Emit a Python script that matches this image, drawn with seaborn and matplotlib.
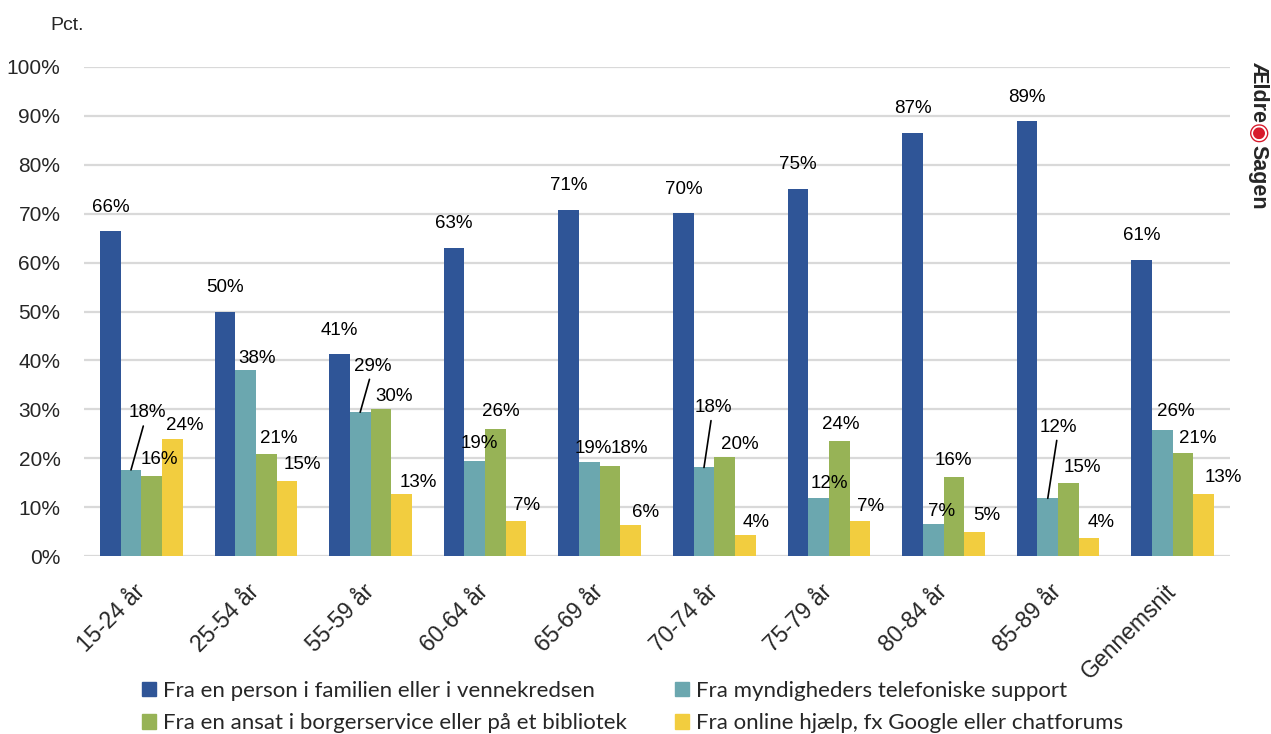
import matplotlib
matplotlib.use("Agg")
import matplotlib.pyplot as plt
from matplotlib.patches import Patch
import seaborn as sns
import pandas as pd

categories = ["15-24 år", "25-54 år", "55-59 år", "60-64 år", "65-69 år",
              "70-74 år", "75-79 år", "80-84 år", "85-89 år", "Gennemsnit"]
series = ["Fra en person i familien eller i vennekredsen",
          "Fra myndigheders telefoniske support",
          "Fra en ansat i borgerservice eller på et bibliotek",
          "Fra online hjælp, fx Google eller chatforums"]

family = [66.4, 49.9, 41.3, 63.0, 70.8, 70.1, 75.1, 86.6, 88.9, 60.6]
authority = [17.6, 38.0, 29.4, 19.4, 19.2, 18.1, 11.9, 6.6, 11.8, 25.8]
citizen = [16.4, 20.8, 30.0, 26.0, 18.4, 20.3, 23.6, 16.1, 14.9, 21.0]
online = [24.0, 15.4, 12.6, 7.2, 6.3, 4.2, 7.2, 5.0, 3.6, 12.6]

colors = ["#2F5597", "#6BA7AF", "#97B356", "#F2CD3F"]

# label offsets in pixels (dx right, dy up) from the top centre of each bar
offsets = [
    [(0, 24)] * 10,
    [(16, 57), (12, 12), (13, 46), (5, 18), (4, 14), (9, 60), (11, 14), (8, 12), (11, 71), (13, 18)],
    [(8, 16), (13, 16), (13, 13), (5, 17), (19, 18), (15, 12), (2, 16), (0, 17), (14, 16), (15, 15)],
    [(13, 13), (16, 16), (17, 12), (11, 15), (15, 13), (11, 13), (11, 14), (12, 16), (12, 16), (20, 17)],
]
# labels connected to their bar by a leader line
leaders = {(1, 0), (1, 2), (1, 5), (1, 8)}

df = pd.DataFrame({
    "Alder": categories * 4,
    "Serie": [s for s in series for _ in categories],
    "Andel": family + authority + citizen + online,
})

sns.set_theme(style="white")
plt.rcParams["font.family"] = ["Liberation Sans", "DejaVu Sans"]

fig = plt.figure(figsize=(12.71, 7.34), dpi=100)
ax = fig.add_axes([84 / 1271, 1 - 556 / 734, (1230 - 84) / 1271, (556 - 67) / 734])

sns.barplot(data=df, x="Alder", y="Andel", hue="Serie", hue_order=series,
            palette=colors, saturation=1, width=0.72, linewidth=0,
            legend=False, ax=ax)

for k, cont in enumerate(ax.containers):
    for i, bar in enumerate(cont):
        h = bar.get_height()
        x = bar.get_x() + bar.get_width() / 2
        dx, dy = offsets[k][i]
        props = None
        if (k, i) in leaders:
            props = dict(arrowstyle="-", color="black", lw=1.2, shrinkA=1, shrinkB=0)
        ax.annotate(f"{int(h + 0.5)}%", xy=(x, h), xytext=(dx, dy),
                    textcoords="offset pixels", ha="center", va="center",
                    fontsize=13.5, color="black", arrowprops=props)

ax.set_ylim(0, 100)
ax.set_xlim(-0.5, 9.5)
ax.set_yticks(range(0, 101, 10))
ax.set_yticklabels([f"{t}%" for t in range(0, 101, 10)])
ax.yaxis.grid(True, color="#d9d9d9", linewidth=1.6)
ax.set_axisbelow(True)
for s in ax.spines.values():
    s.set_visible(False)
ax.set_xlabel("")
ax.set_ylabel("")
ax.tick_params(axis="y", length=0, pad=17, labelsize=15)
ax.tick_params(axis="x", length=0, pad=23, labelsize=16.5)
for lab in ax.get_xticklabels():
    lab.set_rotation(45)
    lab.set_ha("right")
    lab.set_va("center")
    lab.set_rotation_mode("anchor")

fig.text(50 / 1271, 1 - 25 / 734, "Pct.", fontsize=14, va="center", ha="left")

handles = [Patch(color=c) for c in colors]
order = [0, 2, 1, 3]
fig.legend([handles[j] for j in order], [series[j] for j in order],
           loc="upper left", bbox_to_anchor=(142 / 1271, 1 - 681 / 734),
           ncol=2, frameon=False, borderpad=0, borderaxespad=0,
           handlelength=0.63, handleheight=0.63, handletextpad=0.3,
           columnspacing=2.2, labelspacing=0.55,
           prop={"family": "Lato", "size": 16})

# Ældre Sagen logo, written vertically
fig.text(1258 / 1271, 1 - 62 / 734, "Ældre", rotation=-90, fontsize=15.5,
         fontweight="bold", ha="center", va="top")
fig.text(1258 / 1271, 1 - 133 / 734, "◉", rotation=-90, fontsize=17,
         color="#D7192B", ha="center", va="center", family="DejaVu Sans")
fig.text(1258 / 1271, 1 - 145 / 734, "Sagen", rotation=-90, fontsize=15.5,
         fontweight="bold", ha="center", va="top")

fig.savefig("out.png", dpi=100)
